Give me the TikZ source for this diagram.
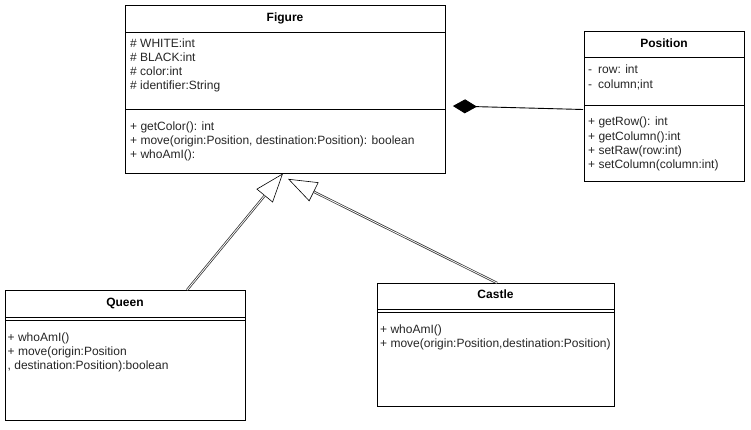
\documentclass[tikz,border=0pt]{standalone}
\usepackage{fontspec}
\setmainfont{Liberation Sans}
\usetikzlibrary{arrows.meta,calc}
\begin{document}
\begin{tikzpicture}[x=1pt,y=-1pt,
  classbox/.style={draw=black,line width=0.9pt,fill=white,inner sep=0pt,anchor=north west},
  sepline/.style={draw=black,line width=0.9pt},
  title/.style={font=\bfseries\fontsize{12}{14}\selectfont,inner sep=0pt,text height=8.6pt,text depth=2.5pt},
  member/.style={font=\fontsize{12}{14}\selectfont,inner sep=0pt,anchor=west,text height=8.6pt,text depth=2.5pt,text=black!85},
  inhline/.style={draw=black!80,double=white,double distance=0.8pt,line width=0.75pt,shorten >=29pt},
  inhtip/.style={draw=black,line width=0.6pt,-{Triangle[open,length=29pt,width=21pt,line width=0.6pt]}},
  compo/.style={draw=black,line width=0.9pt,{Diamond[length=24pt,width=14pt]}-}
]
\useasboundingbox (0,0) rectangle (751,429);
\fill[white] (0,0) rectangle (751,429);

% ---------- Figure ----------
\node[classbox,minimum width=320pt,minimum height=168pt] (figure) at (125,5) {};
\node[title] (figtitle) at (285,18) {Figure};
\draw[sepline] (125,32) -- (445,32);
\draw[sepline] (125,109) -- (445,109);
\node[member] (f1) at (130,44.5) {\# WHITE:int};
\node[member] (f2) at (130,58.5) {\# BLACK:int};
\node[member] (f3) at (130,72.5) {\# color:int};
\node[member] (f4) at (130,86.5) {\# identifier:String};
\node[member] (f5) at (130,127) {+ getColor(): int};
\node[member] (f6) at (130,141.2) {+ move(origin:Position, destination:Position): boolean};
\node[member] (f7) at (130,155.4) {+ whoAmI():};

% ---------- Position ----------
\node[classbox,minimum width=160pt,minimum height=150pt] (position) at (584,31) {};
\node[title] (postitle) at (664,44) {Position};
\draw[sepline] (584,57) -- (744,57);
\draw[sepline] (584,105) -- (744,105);
\node[member] (p1) at (588,70.6) {-\hspace{6pt}row: int};
\node[member] (p2) at (588,85) {-\hspace{6pt}column;int};
\node[member] (p3) at (588,122.6) {+ getRow(): int};
\node[member] (p4) at (588,137) {+ getColumn():int};
\node[member] (p5) at (588,151.2) {+ setRaw(row:int)};
\node[member] (p6) at (588,165.4) {+ setColumn(column:int)};

% ---------- Queen ----------
\node[classbox,minimum width=240pt,minimum height=130pt] (queen) at (5,290) {};
\node[title] (queentitle) at (125,303) {Queen};
\draw[sepline] (5,317) -- (245,317);
\draw[sepline] (5,320.5) -- (245,320.5);
\node[member] (q1) at (7.5,338) {+ whoAmI()};
\node[member] (q2) at (7.5,352.2) {+ move(origin:Position};
\node[member] (q3) at (7.5,366.4) {, destination:Position):boolean};

% ---------- Castle ----------
\node[classbox,minimum width=237pt,minimum height=123pt] (castle) at (377,283) {};
\node[title] (castletitle) at (495.5,295.5) {Castle};
\draw[sepline] (377,309) -- (614,309);
\draw[sepline] (377,312.5) -- (614,312.5);
\node[member] (c1) at (380,330) {+ whoAmI()};
\node[member] (c2) at (380,344.2) {+ move(origin:Position,destination:Position)};

% ---------- connectors ----------
\coordinate (qtop) at ($(queen.north west)+(182,0)$);
\coordinate (qtip) at ($(figure.south west)+(158,-0.5)$);
\coordinate (ctop) at ($(castle.north west)+(120,0)$);
\coordinate (ctip) at ($(figure.south west)+(163,5)$);
\draw[inhtip] (qtop) -- (qtip);
\draw[inhline] (qtop) -- (qtip);
\draw[inhtip] (ctop) -- (ctip);
\draw[inhline] (ctop) -- (ctip);

\coordinate (dtip) at ($(figure.north east)+(7,101)$);
\coordinate (pend) at ($(position.north west)+(-1,78.5)$);
\draw[compo] (dtip) -- (pend);
\end{tikzpicture}
\end{document}
